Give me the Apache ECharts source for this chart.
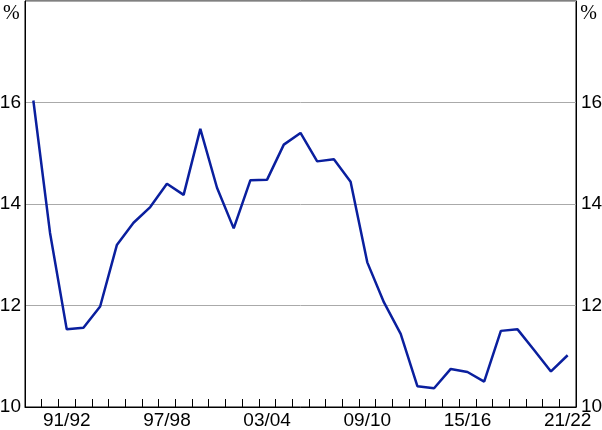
<!DOCTYPE html>
<html>
<head>
<meta charset="utf-8">
<script src="https://cdn.jsdelivr.net/npm/echarts@6/dist/echarts.min.js"></script>
<style>
  html, body { margin: 0; padding: 0; background: #fff; }
  #main { width: 602px; height: 430px; }
</style>
</head>
<body>
<div id="main"></div>
<script>
// 财年 89/90 - 21/22
const years = [
  '89/90', '90/91', '91/92', '92/93', '93/94', '94/95', '95/96', '96/97', '97/98', '98/99',
  '99/00', '00/01', '01/02', '02/03', '03/04', '04/05', '05/06', '06/07', '07/08', '08/09',
  '09/10', '10/11', '11/12', '12/13', '13/14', '14/15', '15/16', '16/17', '17/18', '18/19',
  '19/20', '20/21', '21/22'
]
const values = [
  16.04, 13.43, 11.53, 11.56, 11.98, 13.19, 13.63, 13.94, 14.40, 14.18,
  15.48, 14.32, 13.52, 14.47, 14.48, 15.17, 15.40, 14.84, 14.88, 14.44,
  12.85, 12.06, 11.44, 10.41, 10.37, 10.75, 10.69, 10.50, 11.50, 11.53,
  11.12, 10.70, 11.02
]
const labelYears = ['91/92', '97/98', '03/04', '09/10', '15/16', '21/22']
const yMin = 10
const yMax = 18
const yStep = 2

const chart = echarts.init(document.getElementById('main'))

const yLabel = {
  fontFamily: 'Liberation Sans, Arial, sans-serif',
  fontSize: 19,
  color: '#000',
  formatter: function (v) {
    return v === yMax ? '' : String(v)
  },
}

const option = {
  animation: false,
  grid: {
    left: 25,
    right: 26,
    top: 1,
    bottom: 23,
    outerBoundsMode: 'none',
    containLabel: false,
    show: true,
    borderColor: '#000',
    borderWidth: 1,
  },
  xAxis: {
    type: 'category',
    data: years,
    boundaryGap: true,
    axisLine: { show: true, lineStyle: { color: '#000', width: 1 } },
    axisTick: {
      show: true,
      inside: true,
      length: 8,
      interval: 0,
      alignWithLabel: false,
      lineStyle: { color: '#000', width: 1 },
    },
    axisLabel: {
      interval: 0,
      margin: 4,
      fontFamily: 'Liberation Sans, Arial, sans-serif',
      fontSize: 19,
      color: '#000',
      formatter: function (v) {
        return labelYears.indexOf(v) >= 0 ? v : ''
      },
    },
    splitLine: { show: false },
  },
  yAxis: [
    {
      type: 'value',
      min: yMin,
      max: yMax,
      interval: yStep,
      position: 'left',
      axisLine: { show: true, lineStyle: { color: '#000' } },
      axisTick: { show: false },
      axisLabel: Object.assign({ margin: 4 }, yLabel),
      splitLine: { show: true, lineStyle: { color: '#aaa', width: 1 } },
    },
    {
      type: 'value',
      min: yMin,
      max: yMax,
      interval: yStep,
      position: 'right',
      axisLine: { show: true, lineStyle: { color: '#000' } },
      axisTick: { show: false },
      axisLabel: Object.assign({ margin: 5 }, yLabel),
      splitLine: { show: false },
    },
  ],
  graphic: [
    {
      type: 'text',
      left: 3,
      top: 4,
      style: { text: '%', font: '20px "Liberation Serif", serif', fill: '#000' },
    },
    {
      type: 'text',
      right: 5,
      top: 4,
      style: { text: '%', font: '20px "Liberation Serif", serif', fill: '#000' },
    },
  ],
  series: [
    {
      type: 'line',
      data: values,
      symbol: 'none',
      lineStyle: { color: '#0a1f9e', width: 2.5 },
    },
  ],
}

chart.setOption(option)
</script>
</body>
</html>
